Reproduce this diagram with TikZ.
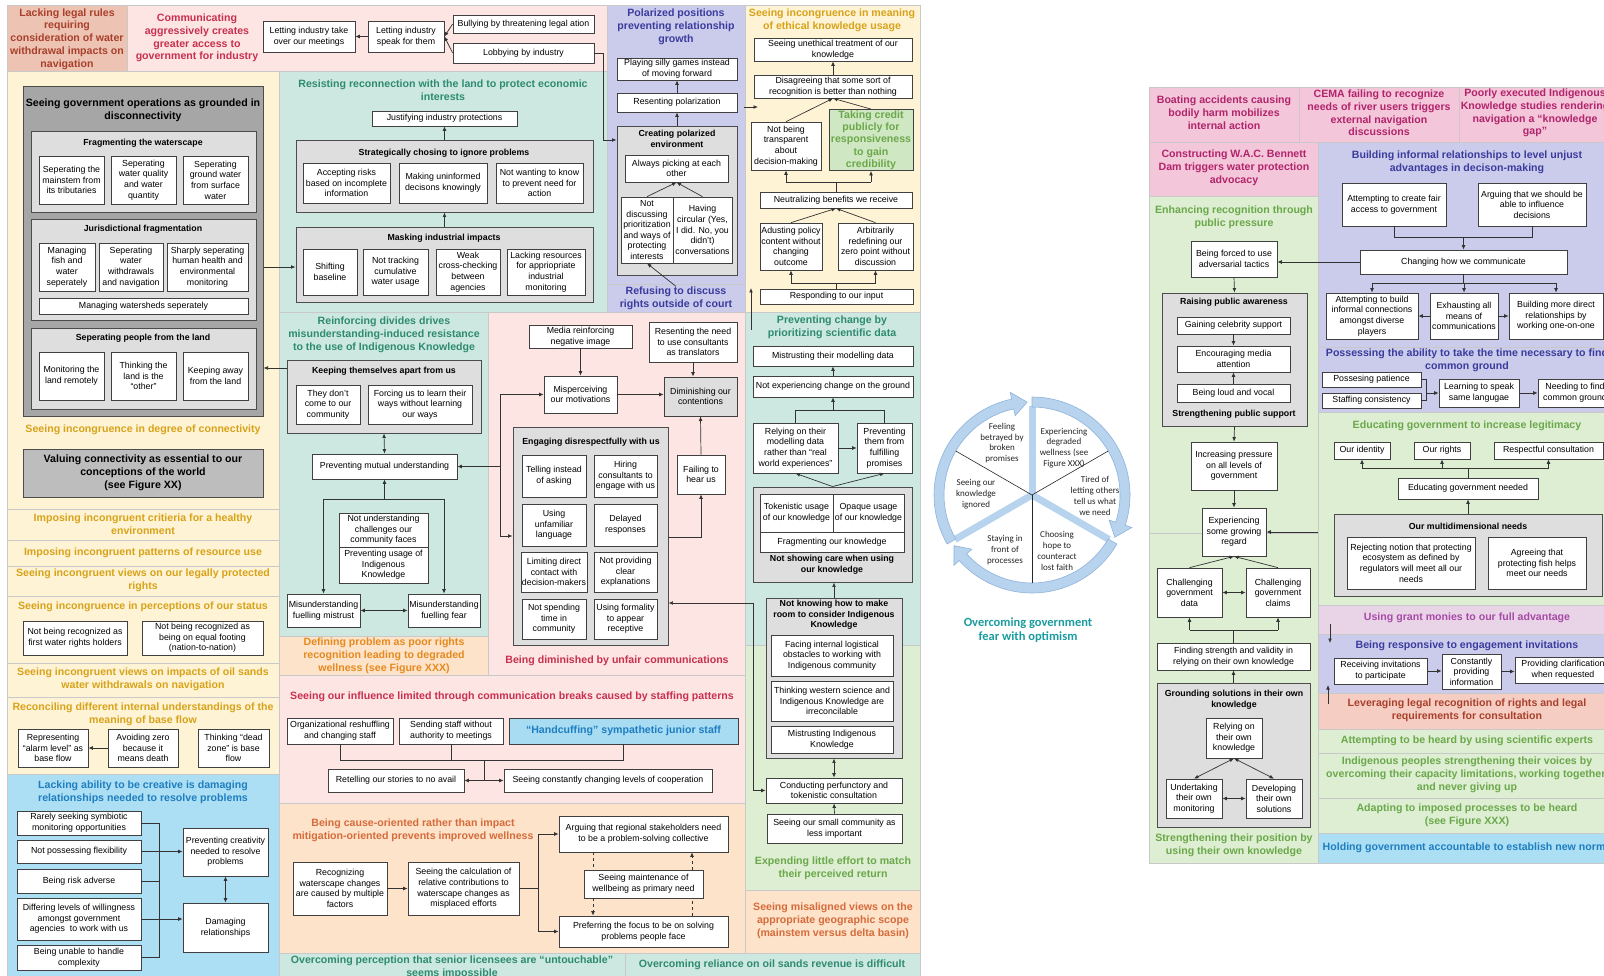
\documentclass[tikz,border=0pt]{standalone}
\usepackage{fontspec}
\setmainfont{Liberation Sans}
\newfontfamily\carl{Carlito}
\usetikzlibrary{arrows.meta}

\definecolor{cream}{HTML}{FEF3D5}
\definecolor{tealbg}{HTML}{CDE8E1}
\definecolor{pinkbg}{HTML}{FCE5E3}
\definecolor{lavbg}{HTML}{CBCCEB}
\definecolor{greenbg}{HTML}{DDEED3}
\definecolor{orangebg}{HTML}{FDE3C9}
\definecolor{bluebg}{HTML}{ADDFF4}
\definecolor{salmonbg}{HTML}{EDC3B3}
\definecolor{magbg}{HTML}{F3C6DA}
\definecolor{mauvebg}{HTML}{E9D4E7}
\definecolor{levbg}{HTML}{F6CDC2}
\definecolor{graybox}{HTML}{DEDEDE}
\definecolor{darkgray}{HTML}{A6A6A6}
\definecolor{valgray}{HTML}{BDBDBD}
\definecolor{creditbg}{HTML}{CFE7C3}
\definecolor{cuffbg}{HTML}{A8DCF3}
\definecolor{sepc}{HTML}{C9C9C9}
\definecolor{ringc}{HTML}{B7D3EE}
\definecolor{ringe}{HTML}{8FB3DB}
\definecolor{golden}{HTML}{D8A31A}
\definecolor{tealtx}{HTML}{2E8B6F}
\definecolor{crimson}{HTML}{C8304E}
\definecolor{navy}{HTML}{3B3B9E}
\definecolor{orangetx}{HTML}{E58A1F}
\definecolor{orangered}{HTML}{D66B3C}
\definecolor{greentx}{HTML}{6BA84A}
\definecolor{bluetx}{HTML}{1E7EC0}
\definecolor{magtx}{HTML}{B2246B}
\definecolor{purptx}{HTML}{A64AA6}
\definecolor{browntx}{HTML}{A8402C}
\definecolor{cyclet}{HTML}{1A9CA0}

\newcommand\bodyf{\fontsize{8.8}{10.6}\selectfont}
\newcommand\headf{\fontsize{10.6}{12.8}\selectfont\bfseries}
\newcommand\subf{\fontsize{8.8}{10.6}\selectfont\bfseries}
% box from its corners: [style]{name}{x1}{y1}{x2}{y2}{text}
\newcommand\bx[7][]{\node[box,#1,minimum width={(#5)-(#3)},minimum height={(#6)-(#4)}] (#2) at ({((#3)+(#5))/2},{((#4)+(#6))/2}) {#7};}
% background band
\newcommand\rg[5]{\path[fill=#1,draw=sepc,line width=0.8pt] (#2,#3) rectangle (#4,#5);}

\begin{document}
\begin{tikzpicture}[x=1pt,y=-1pt,
  box/.style={draw=black!75,fill=white,line width=0.7pt,inner sep=1pt,align=center,font=\bodyf},
  gbox/.style={fill=graybox,draw=black!70,line width=0.9pt},
  dbox/.style={fill=darkgray,draw=black!70,line width=1pt},
  tt/.style={align=center,inner sep=0pt,font=\headf},
  st/.style={align=center,inner sep=0pt,font=\subf},
  ct/.style={align=center,inner sep=0pt,font=\carl\fontsize{9}{10.8}\selectfont,text=black!85},
  ln/.style={draw=black!80,line width=0.7pt},
  arr/.style={ln,-{Latex[length=4.5pt,width=3.8pt]}},
  arrb/.style={ln,{Latex[length=4.5pt,width=3.8pt]}-{Latex[length=4.5pt,width=3.8pt]}},
  sepl/.style={draw=sepc,line width=0.8pt}]
\useasboundingbox (0,0) rectangle (1604,976);
\fill[white] (0,0) rectangle (1604,976);
\clip (0,0) rectangle (1604,976);

% ---------------- background bands, left panel
\rg{salmonbg}{7}{5}{127}{71}
\rg{pinkbg}{127}{5}{607}{71}
\rg{lavbg}{607}{5}{745}{312}
\rg{cream}{745}{5}{920}{312}
\rg{cream}{7}{71}{279}{774}
\rg{tealbg}{279}{71}{607}{312}
\rg{tealbg}{279}{312}{488}{636}
\rg{pinkbg}{488}{312}{745}{675}
\rg{orangebg}{279}{636}{488}{675}
\rg{pinkbg}{279}{675}{745}{803}
\rg{orangebg}{279}{803}{745}{953}
\rg{tealbg}{745}{312}{920}{645}
\rg{greenbg}{745}{645}{920}{890}
\rg{orangebg}{745}{890}{920}{953}
\rg{tealbg}{279}{953}{625}{985}
\rg{tealbg}{625}{953}{920}{985}
\rg{bluebg}{7}{774}{279}{985}
\draw[sepl] (607,284) -- (745,284);
\foreach \yy in {509,540,566,596,663,697} \draw[sepl] (7,\yy) -- (279,\yy);

% ---------------- background bands, right panel
\rg{magbg}{1149}{87}{1299}{142}
\rg{magbg}{1299}{87}{1459}{142}
\rg{magbg}{1459}{87}{1612}{142}
\rg{magbg}{1149}{142}{1318}{196}
\rg{greenbg}{1149}{196}{1318}{533}
\rg{greenbg}{1149}{533}{1318}{863}
\rg{lavbg}{1318}{142}{1612}{347}
\rg{lavbg}{1318}{347}{1612}{412}
\rg{greenbg}{1318}{412}{1612}{605}
\rg{mauvebg}{1318}{605}{1612}{634}
\rg{lavbg}{1318}{634}{1612}{693}
\rg{levbg}{1318}{693}{1612}{729}
\rg{greenbg}{1318}{729}{1612}{753}
\rg{greenbg}{1318}{753}{1612}{798}
\rg{greenbg}{1318}{798}{1612}{833}
\rg{bluebg}{1318}{833}{1612}{863}

% ---------------- band titles, left panel
\node[tt,text=browntx] (tlegal) at (67,39) {Lacking legal rules\\requiring\\consideration of water\\withdrawal impacts on\\navigation};
\node[tt,text=crimson] (tcomm) at (197,38) {Communicating\\aggressively creates\\greater access to\\government for industry};
\node[tt,text=navy] (tpolar) at (676,27) {Polarized positions\\preventing relationship\\growth};
\node[tt,text=navy] (refusing) at (676,298) {Refusing to discuss\\rights outside of court};
\node[tt,text=golden] (tethic) at (832,20) {Seeing incongruence in meaning\\of ethical knowledge usage};
\node[tt,text=tealtx] (tresist) at (443,90) {Resisting reconnection with the land to protect economic\\interests};
\node[tt,text=golden] (tdeg) at (143,430) {Seeing incongruence in degree of connectivity};
\node[tt,text=golden] (tcrit) at (143,524) {Imposing incongruent critieria for a healthy\\environment};
\node[tt,text=golden] (tpatt) at (143,553) {Imposing incongruent patterns of resource use};
\node[tt,text=golden] (tlegv) at (143,580) {Seeing incongruent views on our legally protected\\rights};
\node[tt,text=golden] (tstatus) at (143,607) {Seeing incongruence in perceptions of our status};
\node[tt,text=golden] (toil) at (143,679) {Seeing incongruent views on impacts of oil sands\\water withdrawals on navigation};
\node[tt,text=golden] (tbase) at (143,714) {Reconciling different internal understandings of the\\meaning of base flow};
\node[tt,text=bluetx] (tcreative) at (143,792) {Lacking ability to be creative is damaging\\relationships needed to resolve problems};
\node[tt,text=tealtx] (tdivide) at (384,335) {Reinforcing divides drives\\misunderstanding-induced resistance\\to the use of Indigenous Knowledge};
\node[tt,text=orangetx] (tdefine) at (384,656) {Defining problem as poor rights\\recognition leading to degraded\\wellness (see Figure XXX)};
\node[tt,text=crimson] (tunfair) at (617,661) {Being diminished by unfair communications};
\node[tt,text=crimson] (tstaff) at (512,697) {Seeing our influence limited through communication breaks caused by staffing patterns};
\node[tt,text=orangered] (tcause) at (413,830) {Being cause-oriented rather than impact\\mitigation-oriented prevents improved wellness};
\node[tt,text=tealtx] (tscience) at (832,327) {Preventing change by\\prioritizing scientific data};
\node[tt,text=greentx] (teffort) at (833,868) {Expending little effort to match\\their perceived return};
\node[tt,text=orangered] (tscope) at (833,921) {Seeing misaligned views on the\\appropriate geographic scope\\(mainstem versus delta basin)};
\node[tt,text=tealtx] (tuntouch) at (452,967) {Overcoming perception that senior licensees are ``untouchable''\\seems impossible};
\node[tt,text=tealtx] (trevenue) at (772,965) {Overcoming reliance on oil sands revenue is difficult};

% ---------------- top row boxes
\bx{takeover}{263}{21}{355}{52}{Letting industry take\\over our meetings}
\bx{speak}{368}{21}{444}{52}{Letting industry\\speak for them}
\bx{bully}{453}{15}{594}{33}{Bullying by threatening legal ation}
\bx{lobby}{453}{43}{594}{63}{Lobbying by industry}

% ---------------- disconnectivity column
\bx[dbox]{disconn}{23}{87}{263}{416}{}
\node[tt] (tdisc) at (143,110) {Seeing government operations as grounded in\\disconnectivity};
\bx[gbox]{frag}{31}{131}{256}{212}{}
\node[st] (tfrag) at (143,143) {Fragmenting the waterscape};
\bx{f1}{39}{156}{104}{204}{Seperating the\\mainstem from\\its tributaries}
\bx{f2}{111}{156}{176}{204}{Seperating\\water quality\\and water\\quantity}
\bx{f3}{183}{156}{248}{204}{Seperating\\ground water\\from surface\\water}
\bx[gbox]{juris}{31}{219}{256}{320}{}
\node[st] (tjuris) at (143,229) {Jurisdictional fragmentation};
\bx{j1}{39}{243}{95}{291}{Managing\\fish and\\water\\seperately}
\bx{j2}{99}{243}{163}{291}{Seperating\\water\\withdrawals\\and navigation}
\bx{j3}{167}{243}{248}{291}{Sharply seperating\\human health and\\environmental\\monitoring}
\bx{j4}{39}{298}{248}{314}{Managing watersheds seperately}
\bx[gbox]{seppeople}{31}{328}{256}{409}{}
\node[st] (tsep) at (143,338) {Seperating people from the land};
\bx{s1}{39}{352}{104}{400}{Monitoring the\\land remotely}
\bx{s2}{111}{352}{176}{400}{Thinking the\\land is the\\``other''}
\bx{s3}{183}{352}{248}{400}{Keeping away\\from the land}
\bx[fill=valgray,draw=black!70,line width=1pt,font=\headf]{valuing}{23}{449}{263}{497}{Valuing connectivity as essential to our\\conceptions of the world\\(see Figure XX)}
\bx{firstw}{23}{621}{127}{655}{Not being recognized as\\first water rights holders}
\bx{equalf}{142}{621}{263}{655}{Not being recognized as\\being on equal footing\\(nation-to-nation)}
\bx{alarm}{18}{729}{88}{767}{Representing\\``alarm level'' as\\base flow}
\bx{avoid}{108}{729}{178}{767}{Avoiding zero\\because it\\means death}
\bx{deadz}{198}{729}{269}{767}{Thinking ``dead\\zone'' is base\\flow}

% ---------------- creativity band
\bx{rare}{17}{811}{141}{835}{Rarely seeking symbiotic\\monitoring opportunities}
\bx{flex}{17}{840}{141}{863}{Not possessing flexibility}
\bx{risk}{17}{869}{141}{893}{Being risk adverse}
\bx{differ}{17}{898}{141}{940}{Differing levels of willingness\\amongst government\\agencies\ \ to work with us}
\bx{unable}{17}{945}{141}{970}{Being unable to handle\\complexity}
\bx{prevcre}{183}{828}{268}{876}{Preventing creativity\\needed to resolve\\problems}
\bx{damage}{183}{903}{268}{952}{Damaging\\relationships}

% ---------------- economic interests band
\bx{justify}{372}{111}{517}{126}{Justifying industry protections}
\bx[gbox]{strat}{296}{140}{593}{212}{}
\node[st] (tstrat) at (444,153) {Strategically chosing to ignore problems};
\bx{accept}{303}{163}{390}{203}{Accepting risks\\based on incomplete\\information}
\bx{uninf}{399}{163}{487}{203}{Making uninformed\\decisons knowingly}
\bx{notwant}{496}{163}{583}{203}{Not wanting to know\\to prevent need for\\action}
\bx[gbox]{mask}{296}{227}{593}{302}{}
\node[st] (tmask) at (444,238) {Masking industrial impacts};
\bx{shiftb}{303}{249}{357}{295}{Shifting\\baseline}
\bx{nottrack}{363}{249}{428}{295}{Not tracking\\cumulative\\water usage}
\bx{weak}{436}{249}{500}{295}{Weak\\cross-checking\\between\\agencies}
\bx{lackres}{507}{249}{585}{295}{Lacking resources\\for appriopriate\\industrial\\monitoring}

% ---------------- polarized column
\bx{silly}{617}{58}{737}{80}{Playing silly games instead\\of moving forward}
\bx{resentpol}{617}{93}{737}{112}{Resenting polarization}
\bx[gbox]{creating}{617}{126}{737}{275}{}
\node[st] (tcreat) at (677,139) {Creating polarized\\environment};
\bx{picking}{625}{155}{728}{182}{Always picking at each\\other}
\bx{notdisc}{621}{197}{673}{263}{Not\\discussing\\prioritization\\and ways of\\protecting\\interests}
\bx{circular}{673}{197}{732}{263}{Having\\circular (Yes,\\I did. No, you\\didn't)\\conversations}

% ---------------- ethical knowledge column
\bx{unethical}{754}{38}{912}{61}{Seeing unethical treatment of our\\knowledge}
\bx{disagree}{754}{75}{912}{98}{Disagreeing that some sort of\\recognition is better than nothing}
\bx{transp}{751}{122}{821}{170}{Not being\\transparent\\about\\decision-making}
\bx[fill=creditbg,text=greentx,font=\fontsize{10.6}{12.3}\selectfont\bfseries]{credit}{829}{110}{913}{170}{Taking credit\\publicly for\\responsiveness\\to gain\\credibility}
\bx{neutral}{760}{192}{912}{208}{Neutralizing benefits we receive}
\bx{adjust}{760}{223}{822}{270}{Adusting policy\\content without\\changing\\outcome}
\bx{arbit}{838}{223}{913}{270}{Arbitrarily\\redefining our\\zero point without\\discussion}
\bx{respond}{760}{289}{913}{304}{Responding to our input}

% ---------------- reinforcing divides band
\bx[gbox]{apart}{287}{360}{481}{433}{}
\node[st] (tapart) at (384,371) {Keeping themselves apart from us};
\bx{dontcome}{296}{385}{360}{424}{They don't\\come to our\\community}
\bx{forcing}{368}{385}{472}{424}{Forcing us to learn their\\ways without learning\\our ways}
\bx{mutual}{312}{454}{457}{479}{Preventing mutual understanding}
\bx{notund}{339}{513}{428}{547}{Not understanding\\challenges our\\community faces}
\bx{prevusage}{339}{547}{428}{583}{Preventing usage of\\Indigenous\\Knowledge}
\bx{mistrust}{287}{594}{360}{627}{Misunderstanding\\fuelling mistrust}
\bx{fear}{408}{594}{480}{627}{Misunderstanding\\fuelling fear}

% ---------------- unfair communications band
\bx{media}{529}{325}{632}{348}{Media reinforcing\\negative image}
\bx{misperc}{544}{376}{617}{413}{Misperceiving\\our motivations}
\bx{resentcons}{649}{322}{737}{362}{Resenting the need\\to use consultants\\as translators}
\bx[fill=graybox]{dimin}{664}{377}{737}{416}{Diminishing our\\contentions}
\bx{failing}{677}{455}{725}{494}{Failing to\\hear us}
\bx[gbox]{engage}{513}{427}{668}{645}{}
\node[st] (tengage) at (591,442) {Engaging disrespectfully with us};
\bx{e1}{522}{455}{586}{497}{Telling instead\\of asking}
\bx{e2}{594}{455}{657}{497}{Hiring\\consultants to\\engage with us}
\bx{e3}{522}{504}{586}{546}{Using\\unfamiliar\\language}
\bx{e4}{594}{504}{657}{546}{Delayed\\responses}
\bx{e5}{522}{552}{586}{592}{Limiting direct\\contact with\\decision-makers}
\bx{e6}{594}{552}{657}{592}{Not providing\\clear\\explanations}
\bx{e7}{522}{599}{586}{639}{Not spending\\time in\\community}
\bx{e8}{594}{599}{657}{639}{Using formality\\to appear\\receptive}

% ---------------- staffing band
\bx{reshuf}{287}{718}{393}{744}{Organizational reshuffling\\and changing staff}
\bx{sending}{399}{718}{503}{744}{Sending staff without\\authority to meetings}
\bx[fill=cuffbg,text=bluetx,font=\headf]{handcuff}{509}{718}{738}{744}{``Handcuffing'' sympathetic junior staff}
\bx{retell}{328}{769}{464}{792}{Retelling our stories to no avail}
\bx{constant}{504}{769}{712}{792}{Seeing constantly changing levels of cooperation}

% ---------------- cause-oriented band
\bx{recog}{293}{862}{387}{915}{Recognizing\\waterscape changes\\are caused by multiple\\factors}
\bx{calc}{408}{862}{519}{915}{Seeing the calculation of\\relative contributions to\\waterscape changes as\\misplaced efforts}
\bx{argue}{559}{816}{728}{852}{Arguing that regional stakeholders need\\to be a problem-solving collective}
\bx{maint}{584}{870}{703}{898}{Seeing maintenance of\\wellbeing as primary need}
\bx{prefer}{559}{916}{728}{947}{Preferring the focus to be on solving\\problems people face}

% ---------------- scientific data / effort column
\bx{mistmod}{753}{346}{913}{366}{Mistrusting their modelling data}
\bx{notexp}{753}{376}{913}{397}{Not experiencing change on the ground}
\bx{relying}{753}{423}{838}{473}{Relying on their\\modelling data\\rather than ``real\\world experiences''}
\bx{prevthem}{857}{423}{912}{473}{Preventing\\them from\\fulfilling\\promises}
\bx[gbox]{notcare}{753}{487}{912}{582}{}
\bx{token}{760}{494}{833}{532}{Tokenistic usage\\of our knowledge}
\bx{opaque}{833}{494}{904}{532}{Opaque usage\\of our knowledge}
\bx{fragk}{760}{532}{904}{552}{Fragmenting our knowledge}
\node[st] (tcare) at (832,565) {Not showing care when using\\our knowledge};
\bx[gbox]{notknow}{766}{598}{902}{758}{}
\node[st] (tknow) at (834,615) {Not knowing how to make\\room to consider Indigenous\\Knowledge};
\bx{facing}{771}{635}{893}{676}{Facing internal logistical\\obstacles to working with\\Indigenous community}
\bx{western}{771}{681}{893}{721}{Thinking western science and\\Indigenous Knowledge are\\irreconcilable}
\bx{mistik}{771}{726}{893}{753}{Mistrusting Indigenous\\Knowledge}
\bx{conduct}{766}{778}{902}{803}{Conducting perfunctory and\\tokenistic consultation}
\bx{smallcom}{767}{814}{902}{843}{Seeing our small community as\\less important}

% ---------------- connectors, left panel
\draw[arr] (bully.west) -- (speak.east);
\draw[arr] (lobby.west) -- (speak.east);
\draw[arr] (speak.west) -- (takeover.east);
\draw[arr] (lobby.east) -- (603,53) -- (603,140) -- (creating.west |- 0,140);
\draw[arr] (resentpol.north) -- (silly.south);
\draw[arr] (creating.north) -- (resentpol.south);
\draw[arr] (notdisc.north) -- (picking.south);
\draw[arr] (circular.north) -- (picking.south);
\draw[arr] (refusing.north) -- (notdisc.south);
\coordinate (ethA) at (744,107);
\coordinate (ethB) at (758,107);
\draw[arr] (ethA) -- (ethB);
\coordinate (sciA) at (751,330);
\coordinate (sciB) at (751,288);
\draw[arr] (sciA) -- (sciB);

\draw[ln] (respond.north) -- (respond.north |- 0,283);
\draw[ln] (adjust.south |- 0,283) -- (arbit.south |- 0,283);
\draw[arr] (adjust.south |- 0,283) -- (adjust.south);
\draw[arr] (arbit.south |- 0,283) -- (arbit.south);
\draw[arr] (adjust.north) -- (neutral.south);
\draw[arr] (arbit.north) -- (neutral.south);
\draw[ln] (neutral.north) -- (neutral.north |- 0,182);
\draw[ln] (transp.south |- 0,182) -- (credit.south |- 0,182);
\draw[arr] (transp.south |- 0,182) -- (transp.south);
\draw[arr] (credit.south |- 0,182) -- (credit.south);
\draw[arr] (transp.north) -- (disagree.south);
\draw[arr] (credit.north) -- (disagree.south);
\draw[arr] (disagree.north) -- (unethical.south);

\draw[arr] (mask.north) -- (strat.south);
\draw[arr] (strat.north) -- (justify.south);
\draw[arr] (disconn.east |- 0,267) -- (mask.west |- 0,267);
\draw[arr] (apart.west |- 0,368) -- (disconn.east |- 0,368);
\draw[arr] (avoid.west) -- (alarm.east);

\draw[ln] (rare.east) -- (159,823);
\draw[ln] (risk.east) -- (159,881);
\draw[ln] (unable.east) -- (159,957.5);
\draw[ln] (159,823) -- (159,957.5);
\draw[arr] (flex.east) -- (prevcre.west |- flex.east);
\draw[arr] (differ.east) -- (damage.west |- differ.east);
\draw[arrb] (prevcre.south) -- (damage.north);

\draw[arrb] (apart.south) -- (mutual.north);
\draw[ln] (mistrust.north |- 0,499) -- (fear.north |- 0,499);
\draw[arr] (mutual.south |- 0,499) -- (mutual.south);
\draw[arr] (mistrust.north |- 0,499) -- (mistrust.north);
\draw[arr] (fear.north |- 0,499) -- (fear.north);
\draw[arrb] (mistrust.east) -- (fear.west);

\coordinate (jdiv) at (500,466.5);
\draw[ln] (500,394.5) -- (500,536);
\draw[arr] (jdiv) -- (mutual.east);
\draw[arr] (500,394.5) -- (misperc.west);
\draw[arr] (500,536) -- (engage.west |- 0,536);
\draw[arr] (media.south) -- (misperc.north);
\draw[arr] (misperc.east) -- (dimin.west |- misperc.east);
\draw[arr] (resentcons.south) -- (resentcons.south |- dimin.north);
\draw[arr] (failing.north) -- (dimin.south);
\draw[arr] (engage.east |- 0,537) -| (failing.south);
\draw[arrb] (engage.east |- 0,603) -- (753,603) |- (conduct.west);

\draw[ln] (reshuf.south) -- ++(0,16) -| (handcuff.south);
\draw[ln] (sending.south) -- (sending.south |- 0,760);
\draw[ln] (484,760) -- (484,780.5);
\draw[arr] (484,780.5) -- (retell.east);
\draw[arr] (484,780.5) -- (constant.west);

\draw[arr] (recog.east) -- (calc.west);
\draw[ln] (calc.east) -- (538,888.5);
\draw[ln] (538,834) -- (538,931.5);
\draw[arr] (538,834) -- (argue.west);
\draw[arr] (538,931.5) -- (prefer.west);
\draw[ln,dashed] (argue.south -| 593,0) -- (maint.north -| 593,0);
\draw[arr,dashed] (maint.south -| 593,0) -- (prefer.north -| 593,0);
\draw[ln,dashed] (prefer.north -| 692,0) -- (maint.south -| 692,0);
\draw[arr,dashed] (maint.north -| 692,0) -- (argue.south -| 692,0);

\draw[arr] (notexp.north) -- (mistmod.south);
\draw[ln] (relying.north) -- (relying.north |- 0,410) -- (prevthem.north |- 0,410) -- (prevthem.north);
\draw[arr] (notexp.south |- 0,410) -- (notexp.south);
\draw[arr] (relying.east) -- (prevthem.west |- relying.east);
\draw[arr] (notcare.north) -- (relying.south);
\draw[arr] (notcare.north) -- (prevthem.south);
\draw[arr] (notknow.north) -- (notknow.north |- notcare.south);
\draw[arrb] (notknow.south) -- (conduct.north);
\draw[arr] (smallcom.north) -- (conduct.south);

% ---------------- cycle of optimism
\begin{scope}[shift={(1032,495)},yscale=-1]
  \foreach \a in {90,-30,210} \draw[ringc,line width=7pt] (0,0) -- (\a:89);
  \foreach \a in {210,90,-30}
    \path[fill=ringc,draw=ringe,line width=0.6pt] (\a:88) arc[start angle=\a,end angle=\a-108,radius=88]
      -- (\a-108:81) -- (\a-117:93) -- (\a-108:105) -- (\a-108:98)
      arc[start angle=\a-108,end angle=\a,radius=98] -- cycle;
  \foreach \a in {150,30,270} \draw[black!85,line width=0.6pt] (0,0) -- (\a:88);
\end{scope}
\node[ct] (cyc1) at (1002,443) {Feeling\\betrayed by\\broken\\promises};
\node[ct] (cyc2) at (1064,448) {Experiencing\\degraded\\wellness (see\\Figure XXX)};
\node[ct] (cyc3) at (1095,496) {Tired of\\letting others\\tell us what\\we need};
\node[ct] (cyc4) at (1057,551) {Choosing\\hope to\\counteract\\lost faith};
\node[ct] (cyc5) at (1005,550) {Staying in\\front of\\processes};
\node[ct] (cyc6) at (976,494) {Seeing our\\knowledge\\ignored};
\node[align=center,inner sep=0pt,text=cyclet,font=\carl\bfseries\fontsize{12.5}{14.5}\selectfont] (tcycle) at (1028,630) {Overcoming government\\fear with optimism};

% ---------------- right panel titles
\node[tt,text=magtx] (tboat) at (1224,113) {Boating accidents causing\\bodily harm mobilizes\\internal action};
\node[tt,text=magtx] (tcema) at (1379,113) {CEMA failing to recognize\\needs of river users triggers\\external navigation\\discussions};
\node[tt,text=magtx] (tpoorly) at (1535,113) {Poorly executed Indigenous\\Knowledge studies rendering\\navigation a ``knowledge\\gap''};
\node[tt,text=magtx] (tdam) at (1234,168) {Constructing W.A.C. Bennett\\Dam triggers water protection\\advocacy};
\node[tt,text=greentx] (tenhance) at (1234,217) {Enhancing recognition through\\public pressure};
\node[tt,text=greentx] (tposition) at (1234,845) {Strengthening their position by\\using their own knowledge};
\node[tt,text=navy] (tinformal) at (1467,162) {Building informal relationships to level unjust\\advantages in decison-making};
\node[tt,text=navy] (tcommon) at (1467,360) {Possessing the ability to take the time necessary to find\\common ground};
\node[tt,text=greentx] (teducate) at (1467,426) {Educating government to increase legitimacy};
\node[tt,text=purptx] (tgrant) at (1467,618) {Using grant monies to our full advantage};
\node[tt,text=navy] (tresponsive) at (1467,646) {Being responsive to engagement invitations};
\node[tt,text=browntx] (tleverage) at (1467,710) {Leveraging legal recognition of rights and legal\\requirements for consultation};
\node[tt,text=greentx] (texperts) at (1467,741) {Attempting to be heard by using scientific experts};
\node[tt,text=greentx] (tvoices) at (1467,775) {Indigenous peoples strengthening their voices by\\overcoming their capacity limitations, working together,\\and never giving up};
\node[tt,text=greentx] (tadapt) at (1467,815) {Adapting to imposed processes to be heard\\(see Figure XXX)};
\node[tt,text=bluetx] (tnorms) at (1467,848) {Holding government accountable to establish new norms};

% ---------------- right panel boxes
\bx{forced}{1191}{241}{1277}{277}{Being forced to use\\adversarial tactics}
\bx[gbox]{raising}{1162}{293}{1307}{426}{}
\node[st] (traise) at (1234,302) {Raising public awareness};
\node[st] (tsupport) at (1234,414) {Strengthening public support};
\bx{celeb}{1177}{317}{1290}{334}{Gaining celebrity support}
\bx{mediaatt}{1177}{346}{1290}{372}{Encouraging media\\attention}
\bx{loud}{1177}{384}{1290}{402}{Being loud and vocal}
\bx{incpress}{1191}{442}{1277}{490}{Increasing pressure\\on all levels of\\government}
\bx{regard}{1202}{508}{1266}{556}{Experiencing\\some growing\\regard}
\bx{chdata}{1157}{568}{1222}{617}{Challenging\\government\\data}
\bx{chclaims}{1246}{568}{1310}{617}{Challenging\\government\\claims}
\bx{finding}{1157}{643}{1310}{670}{Finding strength and validity in\\relying on their own knowledge}
\bx[gbox]{grounding}{1157}{683}{1310}{827}{}
\node[st] (tground) at (1234,700) {Grounding solutions in their own\\knowledge};
\bx{relyown}{1206}{718}{1262}{758}{Relying on\\their own\\knowledge}
\bx{undertake}{1166}{779}{1222}{818}{Undertaking\\their own\\monitoring}
\bx{develop}{1246}{779}{1302}{818}{Developing\\their own\\solutions}

\bx{fair}{1342}{183}{1446}{226}{Attempting to create fair\\access to government}
\bx{arguing}{1478}{183}{1586}{226}{Arguing that we should be\\able to influence\\decisions}
\bx{changing}{1360}{250}{1567}{274}{Changing how we communicate}
\bx{informal}{1326}{293}{1418}{339}{Attempting to build\\informal connections\\amongst diverse\\players}
\bx{exhaust}{1430}{293}{1498}{339}{Exhausting all\\means of\\communications}
\bx{direct}{1509}{293}{1603}{339}{Building more direct\\relationships by\\working one-on-one}
\bx{patience}{1322}{372}{1421}{387}{Possesing patience}
\bx{staffing}{1322}{393}{1421}{408}{Staffing consistency}
\bx{learning}{1439}{379}{1519}{407}{Learning to speak\\same langugae}
\bx{needing}{1538}{379}{1612}{407}{Needing to find\\common ground}
\bx{identity}{1334}{442}{1390}{459}{Our identity}
\bx{rights}{1414}{442}{1470}{459}{Our rights}
\bx{respect}{1494}{442}{1603}{459}{Respectful consultation}
\bx{educneed}{1398}{478}{1538}{499}{Educating government needed}
\bx[gbox]{multi}{1334}{514}{1602}{596}{}
\node[st] (tmulti) at (1468,526) {Our multidimensional needs};
\bx{reject}{1347}{537}{1475}{589}{Rejecting notion that protecting\\ecosystem as defined by\\regulators will meet all our\\needs}
\bx{agree}{1488}{537}{1586}{589}{Agreeing that\\protecting fish helps\\meet our needs}
\bx{receiving}{1334}{658}{1427}{684}{Receiving invitations\\to participate}
\bx{constprov}{1442}{654}{1501}{689}{Constantly\\providing\\information}
\bx{clarif}{1515}{657}{1611}{683}{Providing clarification\\when requested}

% ---------------- connectors, right panel
\draw[arr] (changing.west) -- (forced.east |- changing.west);
\draw[arr] (forced.south) -- (raising.north);
\draw[arr] (celeb.south) -- (mediaatt.north);
\draw[arr] (loud.north) -- (mediaatt.south);
\draw[arr] (raising.south) -- (incpress.north);
\draw[arr] (incpress.south) -- (regard.north);
\coordinate (edin) at (1318,532);
\draw[arr] (edin) -- (regard.east);
\draw[arr] (chdata.north) -- (regard.south);
\draw[arr] (chclaims.north) -- (regard.south);
\draw[arrb] (chdata.east) -- (chclaims.west);
\draw[ln] (finding.north) -- (finding.north |- 0,630);
\draw[ln] (chdata.south |- 0,630) -- (chclaims.south |- 0,630);
\draw[arr] (chdata.south |- 0,630) -- (chdata.south);
\draw[arr] (chclaims.south |- 0,630) -- (chclaims.south);
\draw[arr] (grounding.north) -- (finding.south);
\draw[arrb] (undertake.north) -- (relyown.south);
\draw[arrb] (develop.north) -- (relyown.south);
\draw[arrb] (undertake.east) -- (develop.west);

\draw[ln] (fair.south) -- (fair.south |- 0,237) -- (arguing.south |- 0,237) -- (arguing.south);
\draw[arr] (changing.north |- 0,237) -- (changing.north);
\draw[ln] (changing.south) -- (changing.south |- 0,283);
\draw[ln] (informal.north |- 0,283) -- (direct.north |- 0,283);
\draw[arr] (informal.north |- 0,283) -- (informal.north);
\draw[arr] (exhaust.north |- 0,283) -- (exhaust.north);
\draw[arr] (direct.north |- 0,283) -- (direct.north);
\draw[arr] (exhaust.west) -- (informal.east |- exhaust.west);
\draw[arr] (exhaust.east) -- (direct.west |- exhaust.east);
\coordinate (jpat) at (1426,393);
\draw[ln] (patience.east) -| (jpat) |- (staffing.east);
\draw[arr] (jpat) -- (learning.west);
\draw[arr] (learning.east) -- (needing.west);
\draw[ln] (educneed.north) -- (educneed.north |- 0,468);
\draw[ln] (identity.south |- 0,468) -- (respect.south |- 0,468);
\draw[arr] (identity.south |- 0,468) -- (identity.south);
\draw[arr] (rights.south |- 0,468) -- (rights.south);
\draw[arr] (respect.south |- 0,468) -- (respect.south);
\draw[arr] (multi.north) -- (educneed.south);
\draw[arr] (receiving.east) -- (constprov.west |- receiving.east);
\draw[arr] (constprov.east) -- (clarif.west |- constprov.east);
\coordinate (grA) at (1330,624);
\coordinate (grB) at (1330,643);
\draw[arr] (grA) -- (grB);
\coordinate (lvA) at (1328,704);
\coordinate (lvB) at (1328,685);
\draw[arr] (lvA) -- (lvB);
\end{tikzpicture}
\end{document}
